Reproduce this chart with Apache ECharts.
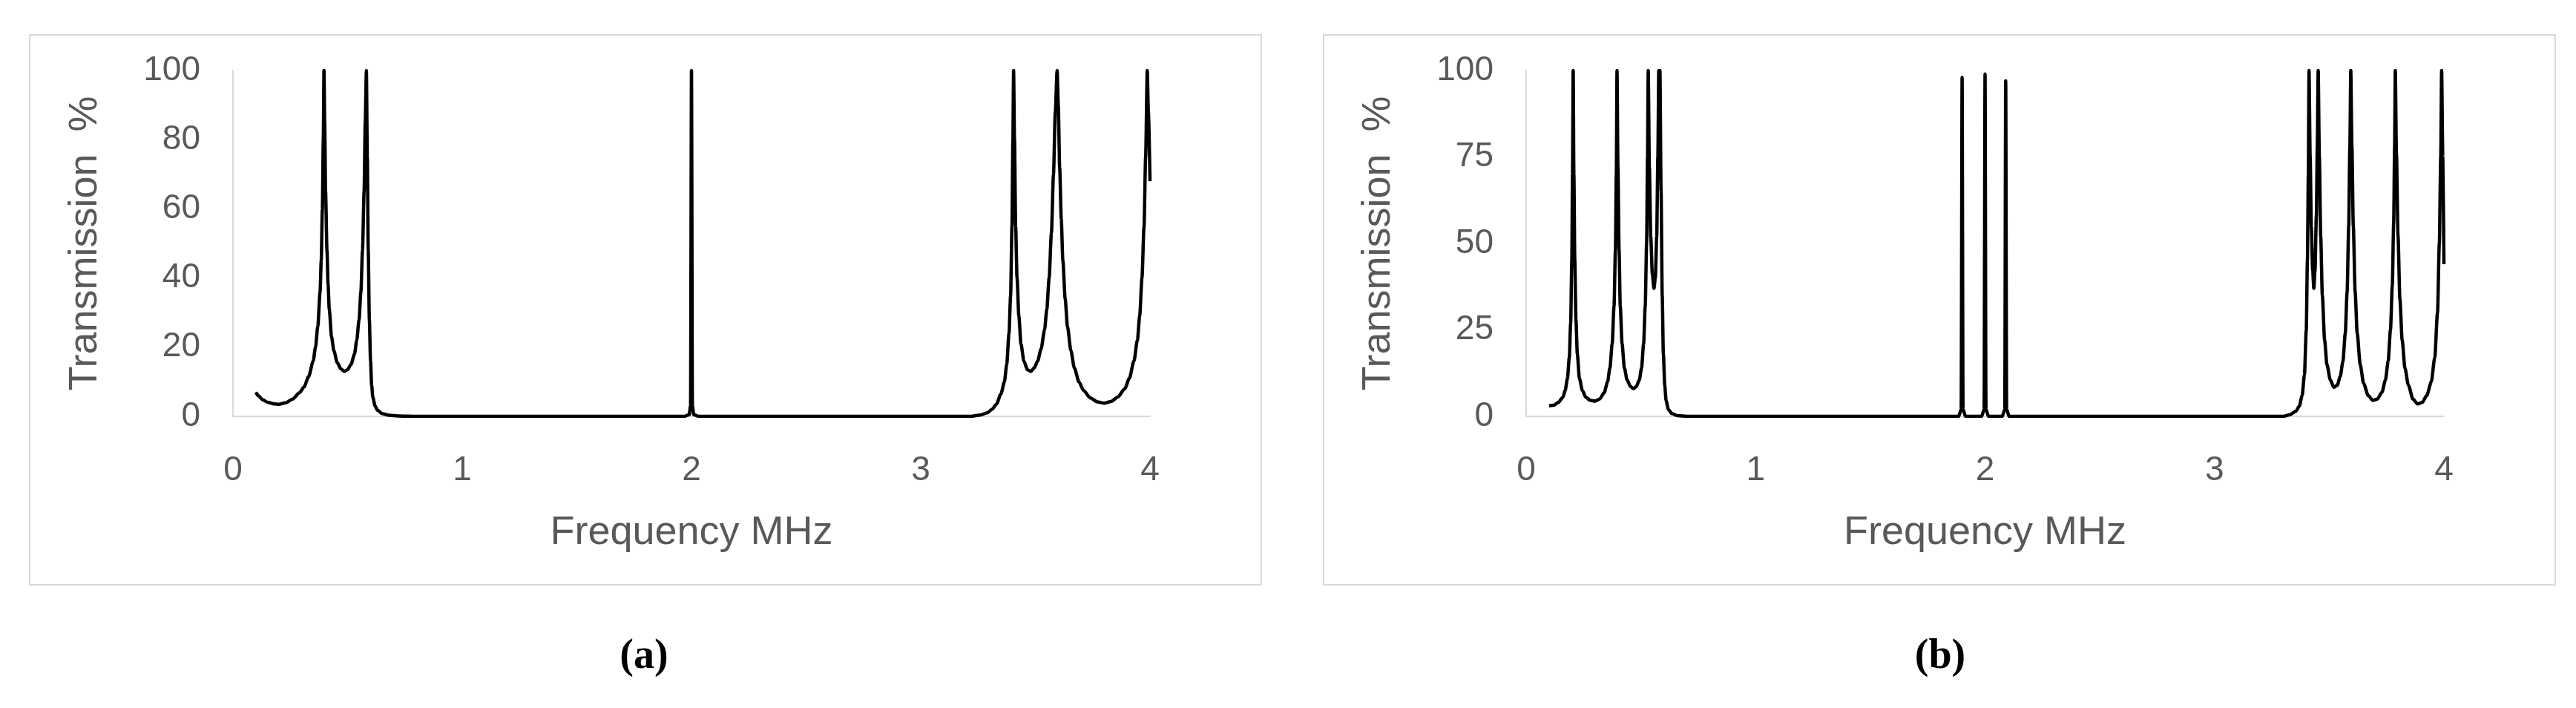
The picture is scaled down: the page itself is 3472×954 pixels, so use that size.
<!DOCTYPE html>
<html>
<head>
<meta charset="utf-8">
<script src="https://cdn.jsdelivr.net/npm/echarts@6/dist/echarts.min.js"></script>
<style>html,body{margin:0;padding:0;background:#fff}#chart{width:3472px;height:954px}</style>
</head>
<body>
<div id="chart"></div>
<script>
// panel (a) transmission curve [MHz, %]
const curveA = [[0.1,7],[0.11,6],[0.13,4.8],[0.15,4.1],[0.18,3.6],[0.2,3.5],[0.23,3.9],[0.26,5],[0.29,6.8],[0.31,8.5],[0.33,11.5],
  [0.35,16],[0.36,20],[0.37,26],[0.38,36],[0.385,45],[0.39,60],[0.394,80],[0.397,100],[0.4,85],[0.404,65],[0.41,48],[0.415,38],
  [0.42,31],[0.43,23],[0.44,19],[0.455,15.5],[0.47,13.8],[0.485,13],[0.5,13.5],[0.515,15],[0.53,18],[0.54,22],[0.55,28],
  [0.558,36],[0.565,48],[0.572,65],[0.577,85],[0.582,100],[0.586,75],[0.59,48],[0.595,28],[0.6,16],[0.605,9],[0.61,5.5],
  [0.62,3],[0.63,1.8],[0.65,0.8],[0.68,0.3],[0.72,0.1],[0.8,0],[1.97,0],[1.99,0.5],[1.996,3],[2.0,100],[2.004,3],[2.01,0.5],
  [2.03,0],[3.22,0],[3.26,0.4],[3.29,1],[3.31,2],[3.33,3.5],[3.35,6.5],[3.365,10],[3.375,15],[3.385,24],[3.392,35],[3.398,55],
  [3.402,80],[3.405,100],[3.409,80],[3.414,55],[3.42,40],[3.428,29],[3.437,21],[3.45,16],[3.465,13.5],[3.48,13],[3.495,14],
  [3.51,16],[3.525,19.5],[3.54,25],[3.55,31],[3.56,40],[3.57,53],[3.579,70],[3.587,88],[3.595,100],[3.6,90],[3.606,72],
  [3.613,57],[3.62,45],[3.63,34],[3.64,26],[3.655,19],[3.67,14],[3.69,10],[3.71,7.5],[3.74,5.3],[3.77,4.2],[3.8,3.8],
  [3.83,4.3],[3.86,5.6],[3.89,8],[3.91,11],[3.93,16],[3.945,22],[3.955,29],[3.965,40],[3.974,55],[3.981,75],[3.988,100],
  [3.993,88],[4.0,68]];
// panel (b) transmission curve [MHz, %]
const curveB = [[0.1,3],[0.12,3.2],[0.14,4],[0.16,5.5],[0.17,7.5],[0.18,11],[0.188,17],[0.194,27],[0.199,45],[0.202,70],
  [0.205,100],[0.208,70],[0.212,45],[0.217,28],[0.223,18],[0.232,11],[0.245,7.5],[0.26,5.5],[0.28,4.6],[0.3,4.4],[0.32,5],
  [0.34,6.8],[0.355,10],[0.365,14],[0.375,21],[0.383,32],[0.389,48],[0.393,70],[0.396,100],[0.4,72],[0.405,48],[0.41,32],
  [0.418,21],[0.428,14],[0.44,10.5],[0.455,8.6],[0.468,8],[0.48,8.6],[0.493,10.5],[0.503,14],[0.512,21],[0.519,32],
  [0.525,50],[0.529,75],[0.532,100],[0.537,72],[0.543,52],[0.55,41],[0.557,37],[0.563,40],[0.569,52],[0.574,75],[0.578,100],
  [0.583,100],[0.588,65],[0.593,35],[0.598,18],[0.604,9],[0.61,4.5],[0.62,2],[0.635,0.8],[0.66,0.2],[0.7,0],[1.885,0],
  [1.896,2],[1.9,98],[1.904,2],[1.915,0],[1.985,0],[1.996,2],[2.0,99],[2.004,2],[2.015,0],[2.075,0],[2.086,2],[2.09,97],
  [2.094,2],[2.105,0],[3.3,0],[3.33,0.5],[3.355,1.5],[3.37,3],[3.382,6],[3.392,12],[3.4,25],[3.405,45],[3.409,70],[3.412,100],
  [3.417,75],[3.422,55],[3.428,42],[3.433,37],[3.438,42],[3.444,58],[3.448,78],[3.452,100],[3.457,75],[3.463,52],[3.47,35],
  [3.48,22],[3.49,15],[3.505,10.5],[3.52,8.4],[3.535,9],[3.548,11.5],[3.56,16],[3.57,24],[3.578,36],[3.585,55],[3.59,78],
  [3.594,100],[3.599,78],[3.605,55],[3.613,36],[3.622,24],[3.635,15],[3.65,9.5],[3.67,6],[3.69,4.6],[3.71,5],[3.73,7],
  [3.745,10.5],[3.757,16],[3.767,25],[3.775,38],[3.781,56],[3.785,78],[3.788,100],[3.793,76],[3.8,52],[3.808,34],
  [3.818,22],[3.83,14],[3.845,9],[3.865,5],[3.885,3.6],[3.905,4],[3.925,6],[3.945,10],[3.96,17],[3.972,30],[3.98,50],
  [3.986,75],[3.99,100],[3.995,75],[4.0,44]];
const xTicks = [0, 1, 2, 3, 4];
const yTicksA = [0, 20, 40, 60, 80, 100];
const yTicksB = [0, 25, 50, 75, 100];

const chart = echarts.init(document.getElementById('chart'));
const gray = '#595959';
const lab = { color: gray, fontSize: 46, fontFamily: 'Liberation Sans' };

function xAx(i) {
  return {
    type: 'value', gridIndex: i, min: xTicks[0], max: xTicks[xTicks.length - 1], interval: 1,
    name: 'Frequency MHz', nameLocation: 'middle', nameGap: 130,
    nameTextStyle: { color: gray, fontSize: 54, fontFamily: 'Liberation Sans' },
    axisLine: { lineStyle: { color: '#d9d9d9', width: 2 } },
    axisTick: { show: false }, splitLine: { show: false },
    axisLabel: Object.assign({ margin: 50 }, lab)
  };
}
function yAx(i, ticks) {
  return {
    type: 'value', gridIndex: i, min: 0, max: 100, interval: ticks[1] - ticks[0],
    name: 'Transmission  %', nameLocation: 'middle', nameGap: 172, nameRotate: 90,
    nameTextStyle: { color: gray, fontSize: 54, fontFamily: 'Liberation Sans' },
    axisLine: { show: true, lineStyle: { color: '#d9d9d9', width: 2 } },
    axisTick: { show: false }, splitLine: { show: false },
    axisLabel: Object.assign({ margin: 44 }, lab)
  };
}

chart.setOption({
  animation: false,
  grid: [
    { left: 314, top: 95, width: 1236, height: 466 },
    { left: 2057, top: 95, width: 1237, height: 466 }
  ],
  xAxis: [xAx(0), xAx(1)],
  yAxis: [yAx(0, yTicksA), yAx(1, yTicksB)],
  series: [
    { type: 'line', xAxisIndex: 0, yAxisIndex: 0, data: curveA, showSymbol: false, smooth: 0.25, smoothMonotone: 'x',
      lineStyle: { color: '#000', width: 4.5 } },
    { type: 'line', xAxisIndex: 1, yAxisIndex: 1, data: curveB, showSymbol: false, smooth: 0.25, smoothMonotone: 'x',
      lineStyle: { color: '#000', width: 4.5 } }
  ],
  graphic: [
    { type: 'rect', shape: { x: 40, y: 47, width: 1660, height: 741 }, style: { fill: 'none', stroke: '#d9d9d9', lineWidth: 2 } },
    { type: 'rect', shape: { x: 1784, y: 47, width: 1660, height: 741 }, style: { fill: 'none', stroke: '#d9d9d9', lineWidth: 2 } },
    { type: 'text', x: 868, y: 886, style: { text: '(a)', fill: '#000', font: 'bold 56px "Liberation Serif"', align: 'center', verticalAlign: 'middle' } },
    { type: 'text', x: 2615, y: 886, style: { text: '(b)', fill: '#000', font: 'bold 56px "Liberation Serif"', align: 'center', verticalAlign: 'middle' } }
  ]
});
</script>
</body>
</html>
